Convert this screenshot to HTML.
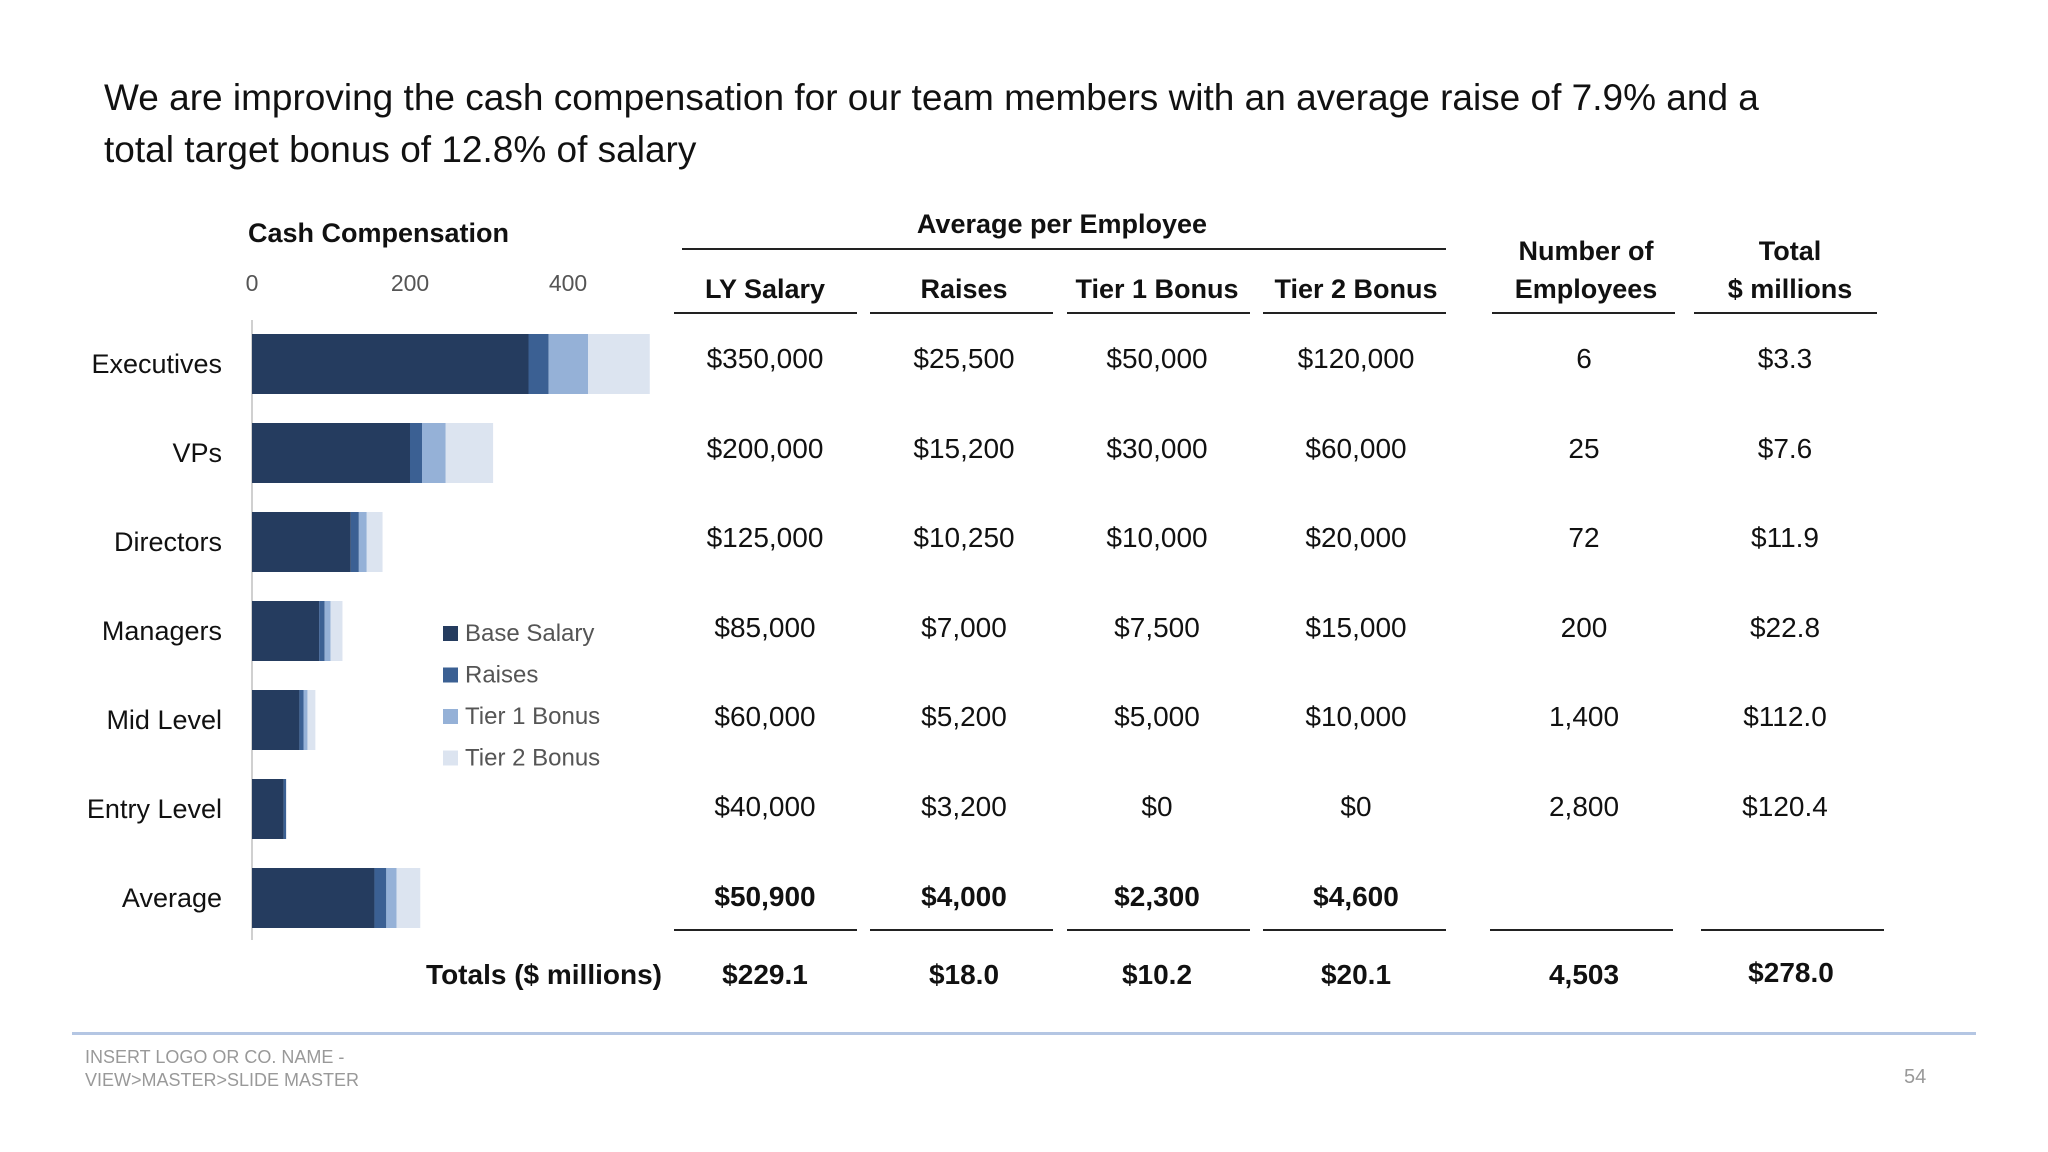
<!DOCTYPE html>
<html><head><meta charset="utf-8"><style>
body{margin:0;background:#fff;}
#page{position:relative;width:2048px;height:1152px;overflow:hidden;font-family:"Liberation Sans",sans-serif;color:#111;background:#fff;}
.t{position:absolute;white-space:nowrap;}
.c{transform:translateX(-50%);text-align:center;}
.r{transform:translateX(-100%);text-align:right;}
.ln{position:absolute;height:2px;background:#222;}
</style></head><body>
<div id="page">
<div class="t" style="left:104px;top:72px;font-size:37px;line-height:52px;">We are improving the cash compensation for our team members with an average raise of 7.9% and a<br>total target bonus of 12.8% of salary</div>
<div class="t" style="left:248px;top:218px;font-size:27px;font-weight:bold;">Cash Compensation</div>
<svg id="chart" style="position:absolute;left:0;top:0" width="2048" height="1152"></svg>
<div id="table"></div>
<div class="ln" style="left:72px;width:1904px;top:1032px;background:#b4c6e3;height:3px"></div>
<div class="t" style="left:85px;top:1046px;font-size:18px;line-height:23px;color:#999">INSERT LOGO OR CO. NAME -<br>VIEW&gt;MASTER&gt;SLIDE MASTER</div>
<div class="t" style="left:1904px;top:1066px;font-size:20px;color:#999">54</div>
</div>
<script>
const categories=["Executives","VPs","Directors","Managers","Mid Level","Entry Level","Average"];
const baseSalary=[350,200,125,85,60,40,155];
const raises=[25.5,15.2,10.25,7,5.2,3.2,15];
const tier1=[50,30,10,7.5,5,0,13];
const tier2=[78,60,20,15,10,0,30];
const seriesNames=["Base Salary","Raises","Tier 1 Bonus","Tier 2 Bonus"];
const ticks=[0,200,400];
const colors=["#253c5f","#3b6093","#95b1d7","#dce4f0"];
const NS="http://www.w3.org/2000/svg";
const svg=document.getElementById('chart');
const x0=252,pxPer=158/200,rowY0=364,rowStep=89,barH=60;
const xs=v=>x0+v*pxPer, ys=i=>rowY0+i*rowStep;
function mk(tag,attrs,txt){const e=document.createElementNS(NS,tag);for(const k in attrs)e.setAttribute(k,attrs[k]);if(txt!=null)e.textContent=txt;svg.appendChild(e);return e;}
const ax=mk('line',{x1:x0,x2:x0,y1:320,y2:940,stroke:'#d0d0d0','stroke-width':2});


ticks.forEach(t=>{const e=mk('text',{x:xs(t),y:291,'text-anchor':'middle','font-size':23,fill:'#555','font-family':'Liberation Sans'},t);

});
const series=[baseSalary,raises,tier1,tier2];
categories.forEach((c,i)=>{
 const l=mk('text',{x:222,y:ys(i)+9,'text-anchor':'end','font-size':27,fill:'#111','font-family':'Liberation Sans'},c);
 
 
 let acc=0;
 series.forEach((s,k)=>{const v=s[i];if(v<=0)return;
  const r=mk('rect',{x:xs(acc),y:ys(i)-barH/2,width:v*pxPer,height:barH,fill:colors[k]});
  
  
  acc+=v;});
});
seriesNames.forEach((n,k)=>{const y=634+k*41.5;
 const s=mk('rect',{x:443,y:y-8,width:15,height:15,fill:colors[k]});
 
 
 const t=mk('text',{x:465,y:y+7,'font-size':24,fill:'#555','font-family':'Liberation Sans'},n);
 
 });

const tbl=document.getElementById('table');
const colX=[765,964,1157,1356,1584,1785];
const colL=[[674,857],[870,1053],[1067,1250],[1263,1446],[1492,1675],[1694,1877]];
const colB=[[674,857],[870,1053],[1067,1250],[1263,1446],[1490,1673],[1701,1884]];
const rows=[["$350,000","$25,500","$50,000","$120,000","6","$3.3"],["$200,000","$15,200","$30,000","$60,000","25","$7.6"],["$125,000","$10,250","$10,000","$20,000","72","$11.9"],["$85,000","$7,000","$7,500","$15,000","200","$22.8"],["$60,000","$5,200","$5,000","$10,000","1,400","$112.0"],["$40,000","$3,200","$0","$0","2,800","$120.4"],["$50,900","$4,000","$2,300","$4,600","",""]];
const totals=["$229.1","$18.0","$10.2","$20.1","4,503","$278.0"];
function div(cls,style,html,name){const d=document.createElement('div');d.className=cls;d.style.cssText=style;d.innerHTML=html;


tbl.appendChild(d);return d;}
div('t c','left:1062px;top:209px;font-size:27px;font-weight:bold','Average per Employee','group-header');
div('ln','left:682px;width:764px;top:248px','','group-header-rule');
["LY Salary","Raises","Tier 1 Bonus","Tier 2 Bonus"].forEach((h,i)=>div('t c','left:'+colX[i]+'px;top:274px;font-size:27px;font-weight:bold',h,'column-header'));
div('t c','left:1586px;top:232px;font-size:27px;font-weight:bold;line-height:38px','Number of<br>Employees','column-header');
div('t c','left:1790px;top:232px;font-size:27px;font-weight:bold;line-height:38px','Total<br>$ millions','column-header');
colL.forEach(c=>div('ln','left:'+c[0]+'px;width:'+(c[1]-c[0])+'px;top:312px','','header-rule'));
colB.forEach(c=>div('ln','left:'+c[0]+'px;width:'+(c[1]-c[0])+'px;top:929px','','bottom-rule'));
rows.forEach((r,i)=>r.forEach((v,j)=>{if(!v)return;div('t c','left:'+colX[j]+'px;top:'+(ys(i)-21+i*0.6)+'px;font-size:28px;'+(i==6?'font-weight:bold':''),v,'table-cell');}));
div('t r','left:662px;top:959px;font-size:28px;font-weight:bold','Totals ($ millions)','totals-label');
totals.forEach((v,j)=>div('t c','left:'+(j==5?1791:colX[j])+'px;top:'+(j==5?957:959)+'px;font-size:28px;font-weight:bold',v,'total-cell'));
</script>
</body></html>
